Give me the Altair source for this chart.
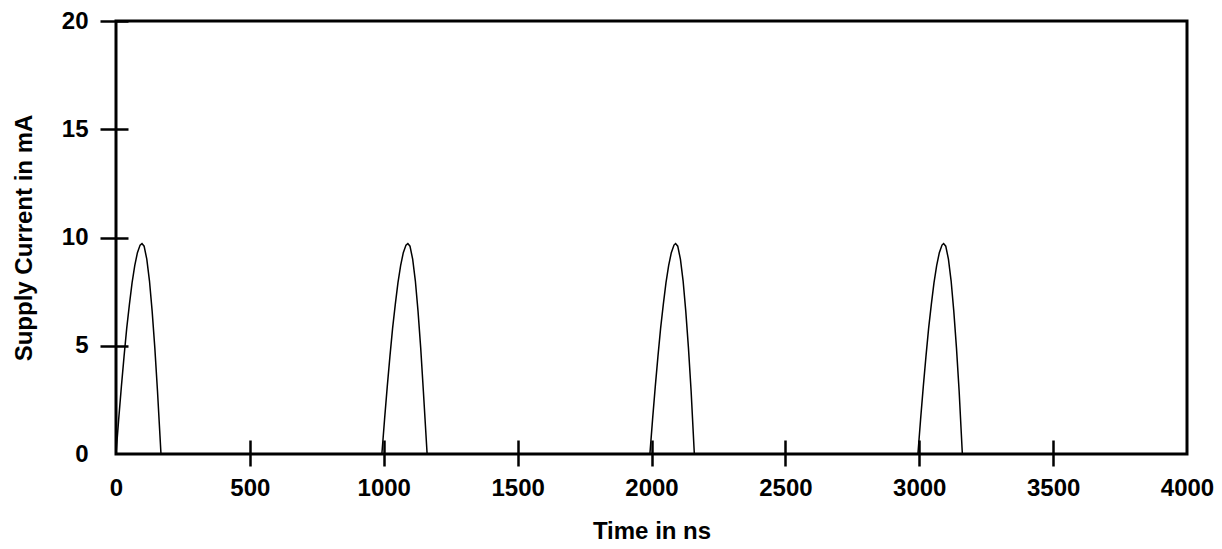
import altair as alt
import pandas as pd

# Supply current trace: four pulses, zero in between
time_ns = [
    0, 10, 20, 30, 40, 50, 60, 70, 80, 90, 97, 105, 115, 125, 135, 145, 155, 168,
    993, 1003, 1013, 1023, 1033, 1043, 1053, 1063, 1073, 1083, 1090, 1098, 1108, 1118, 1128, 1138, 1148, 1162,
    1994, 2004, 2014, 2024, 2034, 2044, 2054, 2064, 2074, 2084, 2090, 2098, 2108, 2118, 2128, 2138, 2148, 2160,
    2995, 3005, 3015, 3025, 3035, 3045, 3055, 3065, 3075, 3085, 3091, 3099, 3109, 3119, 3129, 3139, 3149, 3161,
    4000,
]
current_ma = [
    0, 1.6, 3.1, 4.5, 5.8, 6.9, 7.9, 8.7, 9.3, 9.65, 9.72, 9.6, 9.0, 8.0, 6.6, 4.9, 2.9, 0,
    0, 1.6, 3.1, 4.5, 5.8, 6.9, 7.9, 8.7, 9.3, 9.65, 9.72, 9.6, 9.0, 8.0, 6.6, 4.9, 2.9, 0,
    0, 1.6, 3.1, 4.5, 5.8, 6.9, 7.9, 8.7, 9.3, 9.65, 9.72, 9.6, 9.0, 8.0, 6.6, 4.9, 2.9, 0,
    0, 1.6, 3.1, 4.5, 5.8, 6.9, 7.9, 8.7, 9.3, 9.65, 9.72, 9.6, 9.0, 8.0, 6.6, 4.9, 2.9, 0,
    0,
]
x_tick_values = [0, 500, 1000, 1500, 2000, 2500, 3000, 3500, 4000]
y_tick_values = [0, 5, 10, 15, 20]

df = pd.DataFrame({"t": time_ns, "i": current_ma})

FONT = "Liberation Sans"

x_axis = alt.Axis(
    values=x_tick_values,
    format="d",
    title="Time in ns",
    domain=False,
    grid=False,
    offset=-14,
    tickSize=26,
    tickWidth=2.5,
    tickColor="black",
    tickOpacity={"condition": {"test": "datum.value == 0 || datum.value == 4000", "value": 0}, "value": 1},
    labelPadding=10,
    labelFontSize=24,
    labelFontWeight="bold",
    labelFont=FONT,
    labelColor="black",
    labelFlush=False,
    titleFontSize=24,
    titleFontWeight="bold",
    titleFont=FONT,
    titleColor="black",
    titlePadding=19,
)

y_axis = alt.Axis(
    values=y_tick_values,
    format="d",
    title="Supply Current in mA",
    domain=False,
    grid=False,
    offset=-12,
    tickSize=28,
    tickWidth=2.5,
    tickColor="black",
    tickOpacity={"condition": {"test": "datum.value == 0", "value": 0}, "value": 1},
    labelPadding=12,
    labelFontSize=24,
    labelFontWeight="bold",
    labelFont=FONT,
    labelColor="black",
    labelFlush=False,
    titleFontSize=24,
    titleFontWeight="bold",
    titleFont=FONT,
    titleColor="black",
    titlePadding=25,
)

chart = (
    alt.Chart(df)
    .mark_line(color="black", strokeWidth=1.5, clip=True)
    .encode(
        x=alt.X("t:Q", scale=alt.Scale(domain=[0, 4000], nice=False, zero=False), axis=x_axis),
        y=alt.Y("i:Q", scale=alt.Scale(domain=[0, 20], nice=False), axis=y_axis),
        order=alt.Order("t:Q"),
    )
    .properties(
        width=1071,
        height=433,
        autosize=alt.AutoSizeParams(type="none"),
        padding={"left": 108, "top": 13, "right": 27, "bottom": 88},
    )
    .configure(background="white")
    .configure_view(stroke="black", strokeWidth=3)
)

chart.save("out.html", embed_options={"renderer": "svg", "actions": False})
